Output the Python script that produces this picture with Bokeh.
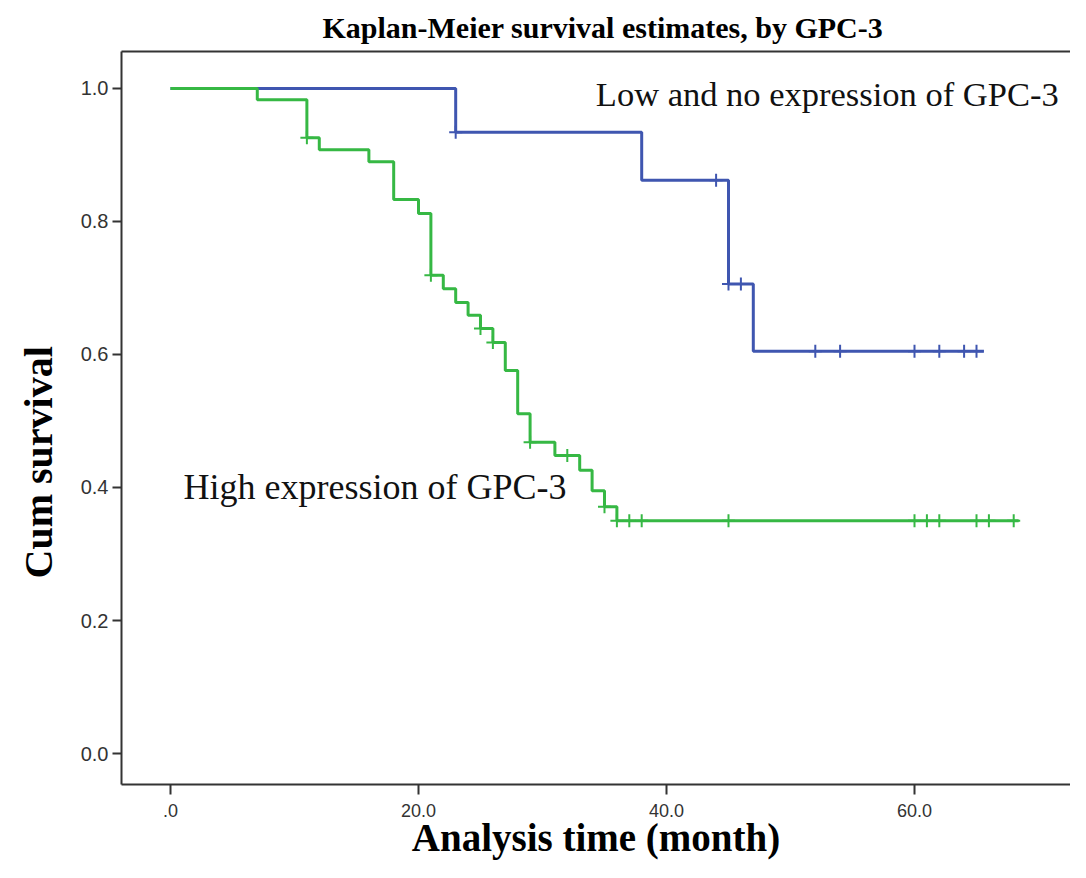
from bokeh.plotting import figure
from bokeh.models import Range1d, FixedTicker, LinearAxis, Label, ColumnDataSource, Title
from bokeh.embed import file_html
from bokeh.resources import INLINE

# ---- data ----
high_times = [0, 7, 11, 12, 16, 18, 20, 21, 22, 23, 24, 25, 26, 27, 28, 29, 31, 33, 34, 35, 36]
high_surv = [1.0, 0.983, 0.926, 0.908, 0.890, 0.833, 0.812, 0.719, 0.699, 0.678, 0.659,
             0.639, 0.618, 0.576, 0.511, 0.468, 0.448, 0.426, 0.395, 0.371, 0.350]
high_end = 68.4
high_censored = [11, 21, 25, 26, 29, 32, 35, 36, 37, 38, 45, 60, 61, 62, 65, 66, 68]

low_times = [0, 23, 38, 45, 47]
low_surv = [1.0, 0.934, 0.862, 0.706, 0.605]
low_end = 65.6
low_censored = [23, 44, 45, 46, 52, 54, 60, 62, 64, 65]

x_ticks = [0, 20, 40, 60]
x_tick_labels = [".0", "20.0", "40.0", "60.0"]
y_ticks = [0.0, 0.2, 0.4, 0.6, 0.8, 1.0]
y_tick_labels = ["0.0", "0.2", "0.4", "0.6", "0.8", "1.0"]

title_text = "Kaplan-Meier survival estimates, by GPC-3"
x_label = "Analysis time (month)"
y_label = "Cum survival"
low_label = "Low and no expression of GPC-3"
high_label = "High expression of GPC-3"

BLUE = "#3f56b0"
GREEN = "#36b844"
AXIS = "#333333"


def level_at(times, surv, t):
    s = surv[0]
    for ti, si in zip(times, surv):
        if ti <= t:
            s = si
    return s


p = figure(width=1070, height=862, output_backend="svg", toolbar_location=None,
           x_range=Range1d(-3.95, 72.58), y_range=Range1d(-0.0466, 1.0556),
           min_border_left=121, min_border_right=0, min_border_top=51, min_border_bottom=78)
p.outline_line_color = None
p.grid.visible = False
p.background_fill_color = "white"
p.border_fill_color = "white"

p.title.text = title_text
p.title.align = "left"
p.title.offset = 201
p.title.standoff = 15
p.title.text_font = "Liberation Serif"
p.title.text_font_style = "bold"
p.title.text_font_size = "30px"
p.title.text_color = "black"

# axes
for ax in (p.xaxis[0], p.yaxis[0]):
    ax.axis_line_color = AXIS
    ax.axis_line_width = 2
    ax.major_tick_line_color = AXIS
    ax.major_tick_line_width = 2
    ax.major_tick_out = 10
    ax.major_tick_in = 0
    ax.minor_tick_line_color = None
    ax.major_label_text_font = "Liberation Sans"
    ax.major_label_text_color = "#333333"

p.xaxis.major_label_text_font_size = "18px"
p.yaxis.major_label_text_font_size = "20px"
p.yaxis.major_tick_out = 9
p.xaxis.ticker = FixedTicker(ticks=x_ticks)
p.xaxis.major_label_overrides = {t: l for t, l in zip(x_ticks, x_tick_labels)}
p.yaxis.ticker = FixedTicker(ticks=y_ticks)
p.yaxis.major_label_overrides = {t: l for t, l in zip(y_ticks, y_tick_labels)}
p.xaxis.major_label_standoff = 9
p.yaxis.major_label_standoff = 4

p.xaxis.axis_label = x_label
p.xaxis.axis_label_text_font = "Liberation Serif"
p.xaxis.axis_label_text_font_style = "bold"
p.xaxis.axis_label_text_font_size = "39px"
p.xaxis.axis_label_text_color = "black"
p.xaxis.axis_label_standoff = -4

top = LinearAxis(ticker=FixedTicker(ticks=[]), axis_line_color=AXIS, axis_line_width=2,
                 major_tick_line_color=None, minor_tick_line_color=None,
                 major_label_text_font_size="0px")
p.add_layout(top, "above")

ytitle = Title(text=y_label, align="left", offset=206, standoff=29, vertical_align="top",
               text_font="Liberation Serif", text_font_style="bold",
               text_font_size="40px", text_color="black")
p.add_layout(ytitle, "left")

# curves
p.step(low_times + [low_end], low_surv + [low_surv[-1]], mode="after",
       line_color=BLUE, line_width=3)
p.step(high_times + [high_end], high_surv + [high_surv[-1]], mode="after",
       line_color=GREEN, line_width=3)

low_cs = ColumnDataSource(dict(x=low_censored,
                               y=[level_at(low_times, low_surv, t) for t in low_censored]))
high_cs = ColumnDataSource(dict(x=high_censored,
                                y=[level_at(high_times, high_surv, t) for t in high_censored]))
p.scatter("x", "y", source=low_cs, marker="cross", size=13, line_color=BLUE, line_width=2)
p.scatter("x", "y", source=high_cs, marker="cross", size=13, line_color=GREEN, line_width=2)

p.add_layout(Label(x=34.3, y=0.991, text=low_label, text_font="Liberation Serif",
                   text_font_size="34.5px", text_color="#111111", text_baseline="middle"))
p.add_layout(Label(x=1.05, y=0.401, text=high_label, text_font="Liberation Serif",
                   text_font_size="36px", text_color="#111111", text_baseline="middle"))

open("out.html", "w").write(file_html(p, INLINE))
